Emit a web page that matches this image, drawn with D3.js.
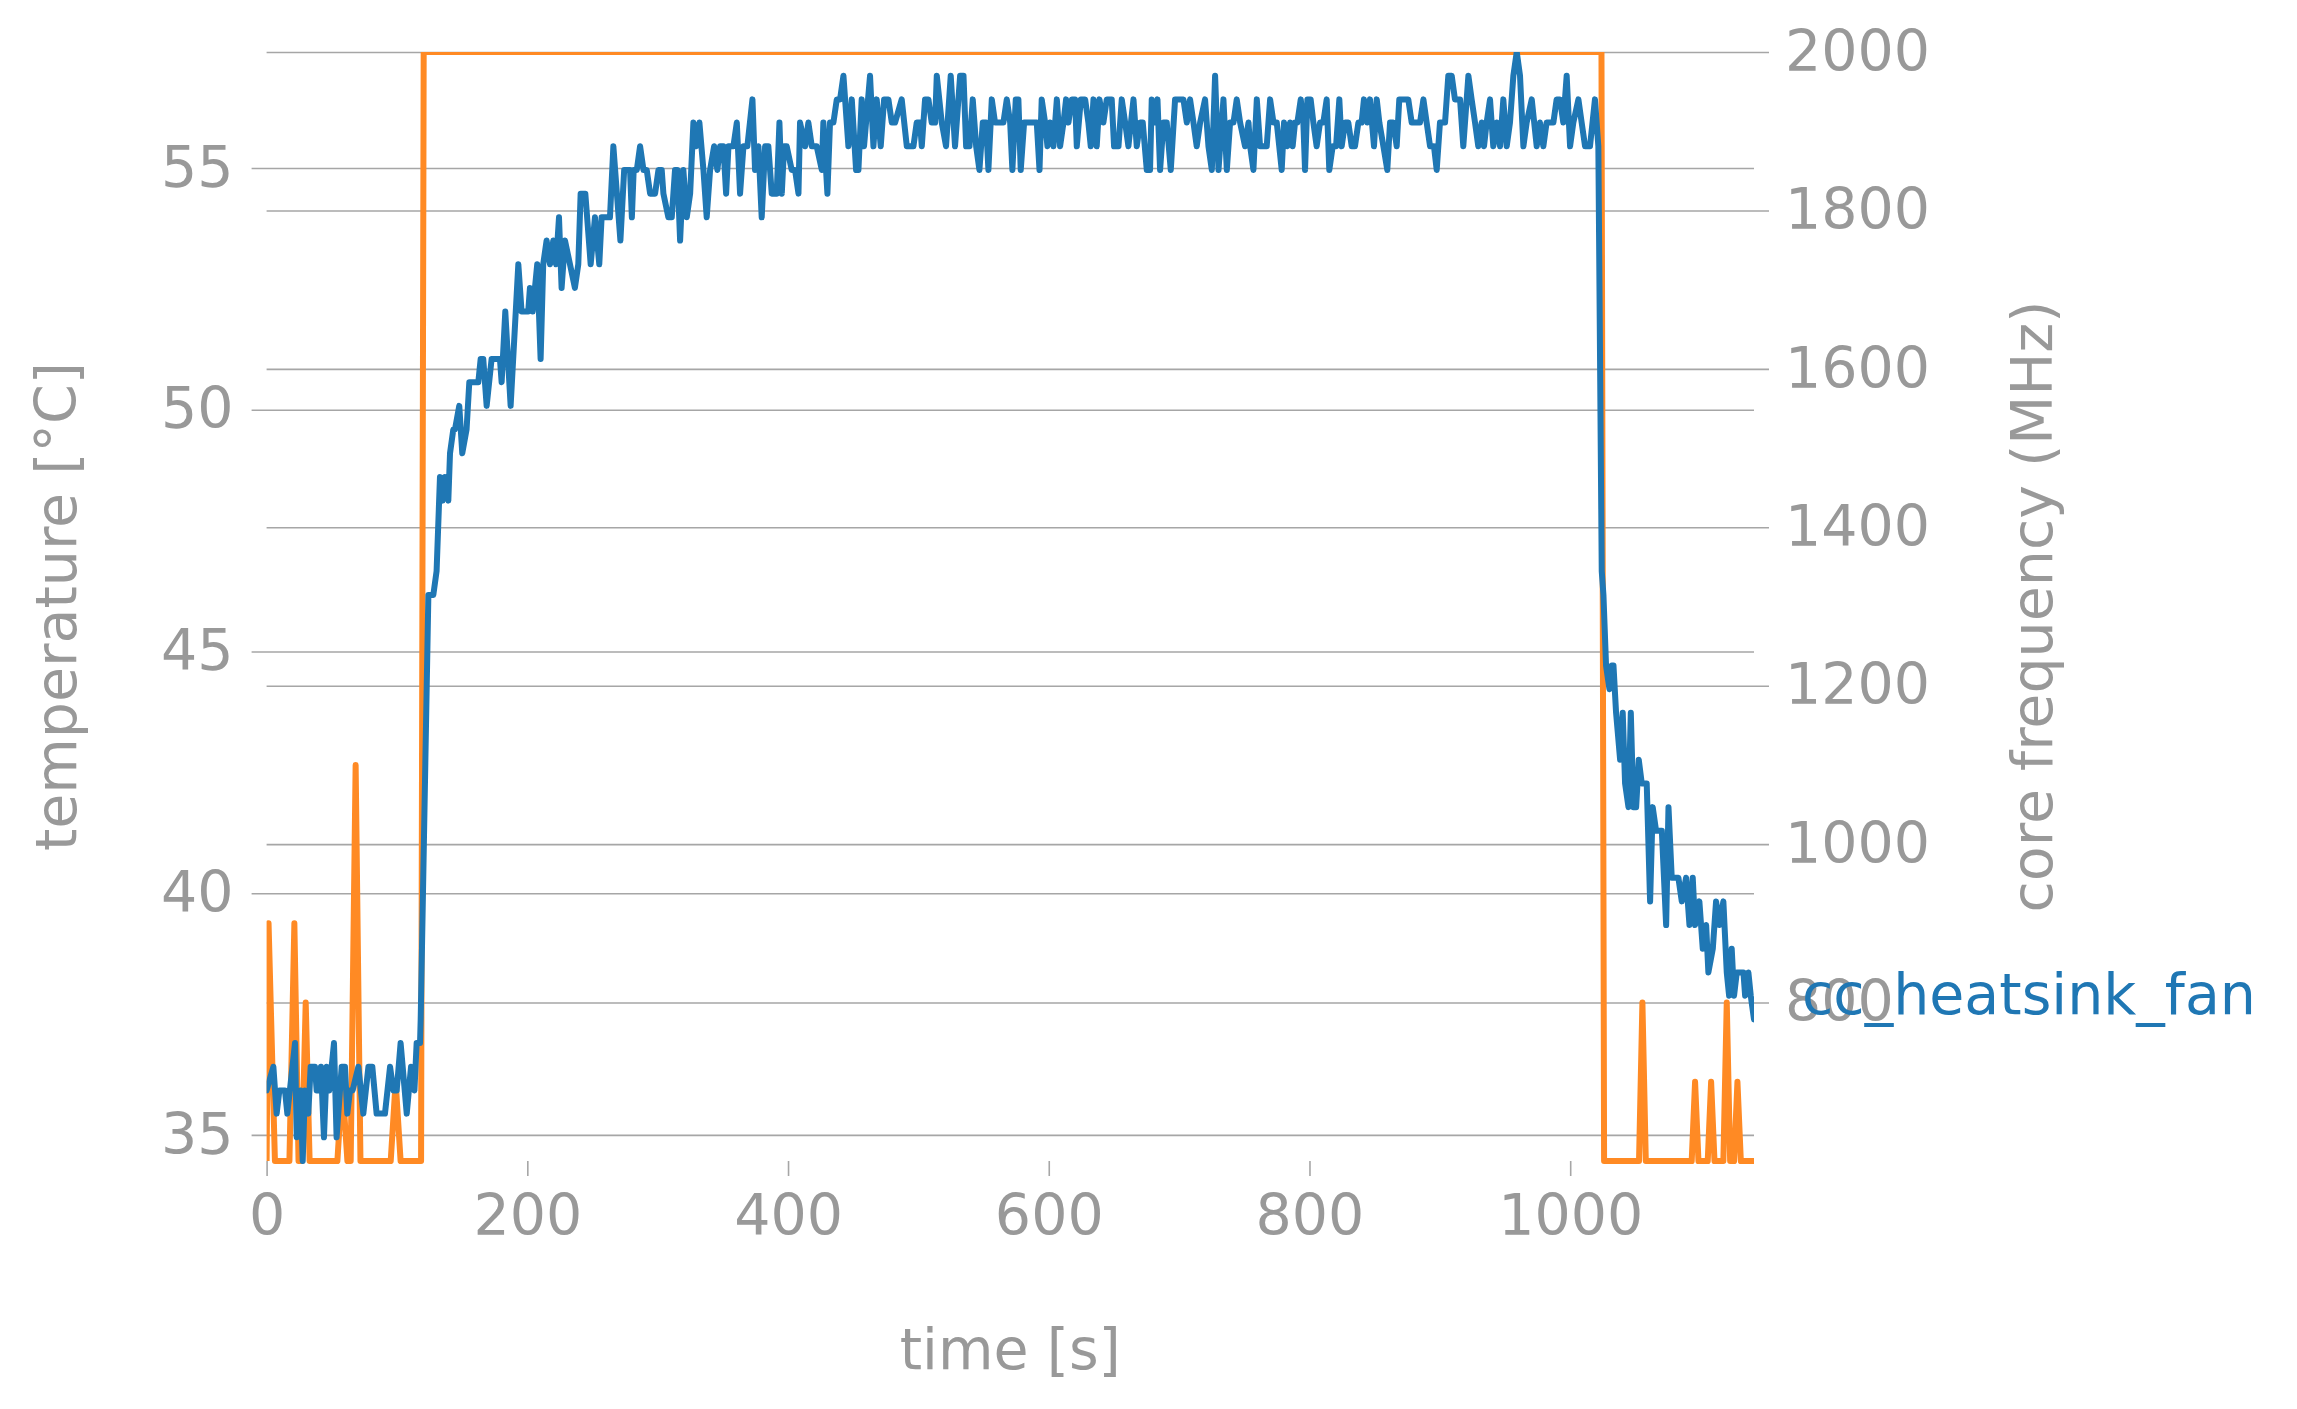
<!DOCTYPE html>
<html>
<head>
<meta charset="utf-8">
<script src="https://cdn.jsdelivr.net/npm/d3@7"></script>
<style>
  body { margin: 0; background: #fff; }
  svg { display: block; font-family: "DejaVu Sans", sans-serif; }
</style>
</head>
<body>
<svg id="chart" width="2297" height="1409"></svg>
<script>
// [time s, temperature °C]
const temperature = [
  [0,35.92],[5.2,36.41],[7.7,35.44],[9.8,35.92],[14.1,35.92],[15.9,35.44],[21.8,36.90],[23.1,34.95],[26.1,35.92],[27.7,34.46],
  [29.4,35.92],[32,35.44],[33.8,36.41],[37.1,36.41],[38.4,35.92],[40.4,35.92],[41.7,36.41],[44,34.95],[46.1,36.41],[48.1,35.92],
  [51.7,36.90],[53.7,34.95],[57.6,36.41],[60.1,36.41],[61.9,35.44],[64,35.92],[66,35.92],[70.4,36.41],[74.2,35.44],[78.1,36.41],
  [81.1,36.41],[84.4,35.44],[90.8,35.44],[94.7,36.41],[97.2,35.92],[99.8,35.92],[102.8,36.90],[107.5,35.44],[110.8,36.41],[113.4,35.92],
  [115.1,36.90],[117.7,36.90],[118.2,37.39],[124.1,46.17],[127.9,46.17],[130.4,46.66],[133,48.61],[135,48.12],[136.8,48.61],[139.4,48.12],
  [140.7,49.10],[143.2,49.59],[144.5,49.59],[147.8,50.08],[150.1,49.10],[153.4,49.59],[155.5,50.57],[162.4,50.57],[164.2,51.05],[166.2,51.05],
  [168.8,50.08],[172.6,51.05],[179,51.05],[180.3,50.57],[183.1,52.03],[187.2,50.08],[193.1,53.01],[195.6,52.03],[200.7,52.03],[202,52.52],
  [204.1,52.03],[207.6,53.01],[210.2,51.05],[212.2,53.01],[214.8,53.50],[217.4,53.01],[219.9,53.50],[222,53.01],[224.3,53.98],[226.3,52.52],
  [228.9,53.50],[232.7,53.01],[236.5,52.52],[239.1,53.01],[240.9,54.47],[244.5,54.47],[248.6,53.01],[251.9,53.98],[255.2,53.01],[257,53.98],
  [263.4,53.98],[266,55.45],[271.4,53.50],[274.3,54.96],[278.8,54.96],[280.2,53.98],[281.6,54.96],[284,54.96],[286.5,55.45],[289.1,54.96],
  [291.6,54.96],[294.2,54.47],[298,54.47],[300.6,54.96],[303.1,54.96],[304.4,54.47],[308.2,53.98],[310.8,53.98],[313.3,54.96],[315.1,54.96],
  [317.2,53.50],[319.7,54.96],[322.3,53.98],[324.9,54.47],[327.4,55.94],[329.5,55.45],[332,55.94],[335.1,54.96],[337.6,53.98],[340.2,54.96],
  [343.3,55.45],[345.8,54.96],[347.9,55.45],[350.4,55.45],[352.5,54.47],[354.3,55.45],[358.1,55.45],[360.7,55.94],[363.2,54.47],[365.8,55.45],
  [368.8,55.45],[372.7,56.42],[374.7,54.96],[377.3,55.45],[379.8,53.98],[382.4,55.45],[384.9,55.45],[387.5,54.47],[391.3,54.47],[393.4,55.94],
  [395.2,54.47],[397,55.45],[399,55.45],[402.8,54.96],[405.4,54.96],[408,54.47],[409.2,55.94],[413.1,55.45],[415.6,55.94],[418.2,55.45],
  [422,55.45],[425.9,54.96],[427.1,55.94],[430.2,54.47],[432.2,55.94],[434.8,55.94],[437.4,56.42],[439.9,56.42],[442.5,56.91],[446.3,55.45],
  [448.9,56.42],[452.2,54.96],[454,54.96],[456.5,56.42],[458.3,55.45],[462.9,56.91],[465.5,55.45],[468,56.42],[471.1,55.45],[473.7,56.42],
  [477,56.42],[479.6,55.94],[482.1,55.94],[487.2,56.42],[491.1,55.45],[496.2,55.45],[498.7,55.94],[501.3,55.94],[502.6,55.45],[505.1,56.42],
  [507.7,56.42],[510.2,55.94],[512.8,55.94],[514.1,56.91],[517.9,55.94],[521.2,55.45],[524.8,56.91],[528.1,55.45],[532,56.91],[534.6,56.91],
  [536.6,55.45],[539.2,55.45],[541.7,56.42],[544.3,55.45],[546.8,54.96],[549.4,55.94],[551.9,55.94],[553.7,54.96],[556.3,56.42],[558.8,55.94],
  [562.7,55.94],[565.2,55.94],[567.8,56.42],[570.4,55.94],[572.1,54.96],[574.7,56.42],[576.7,56.42],[578.5,54.96],[581.1,55.94],[590.8,55.94],
  [592.9,54.96],[594.6,56.42],[597.2,55.94],[599,55.45],[601,55.94],[603.6,55.45],[606.2,56.42],[608.7,55.45],[611.3,55.94],[613.3,56.42],
  [615.1,55.94],[617.7,56.42],[620.2,56.42],[621.5,55.45],[624.6,56.42],[627.9,56.42],[630.4,55.94],[632.2,55.45],[634.3,56.42],[636.8,55.45],
  [638.9,56.42],[641.9,55.94],[644.5,56.42],[648.3,56.42],[650.1,55.45],[653.5,55.45],[656,56.42],[658.6,55.94],[661.1,55.45],[665,56.42],
  [667.5,55.45],[670.1,55.94],[672.1,55.94],[675.2,54.96],[677.7,54.96],[679,56.42],[681.6,55.94],[683.4,56.42],[685.4,54.96],[688,55.94],
  [690.5,55.94],[693.6,54.96],[696.9,56.42],[703.3,56.42],[705.9,55.94],[708.4,56.42],[711,55.94],[713.5,55.45],[716.1,55.94],[719.9,56.42],
  [722.5,55.45],[725.1,54.96],[727.6,56.91],[730.2,54.96],[734,56.42],[736.6,54.96],[739.1,55.94],[741.7,55.94],[744.2,56.42],[746.8,55.94],
  [750.6,55.45],[753.2,55.94],[754.5,55.45],[757,54.96],[759.6,56.42],[762.1,55.45],[767.2,55.45],[769.8,56.42],[772.4,55.94],[774.9,55.94],
  [778.7,54.96],[780.5,55.94],[783,55.45],[785.1,55.94],[787.1,55.45],[788.9,55.94],[790.7,55.94],[793.3,56.42],[795.3,55.94],[796.6,54.96],
  [798.4,56.42],[800.9,56.42],[803,55.94],[805.5,55.45],[808.1,55.94],[810.6,55.94],[813.2,56.42],[815.2,54.96],[817.8,55.45],[820.4,55.45],
  [822.9,56.42],[824.7,55.45],[827.3,55.94],[829.8,55.94],[832.4,55.45],[834.9,55.45],[837.5,55.94],[840,55.94],[841.8,56.42],[844.4,55.94],
  [846.4,56.42],[849.5,55.45],[851.6,56.42],[853.6,55.94],[856.7,55.45],[859.7,54.96],[861.8,55.94],[864.3,55.94],[866.9,55.45],[868.9,56.42],
  [875.8,56.42],[878.4,55.94],[884.8,55.94],[887.4,56.42],[889.9,55.94],[892.5,55.45],[895.5,55.45],[897.6,54.96],[900.1,55.94],[904,55.94],
  [906.5,56.91],[909.1,56.91],[911.6,56.42],[915.5,56.42],[918,55.45],[921.9,56.91],[924.4,56.42],[927,55.94],[929.5,55.45],[932.1,55.94],
  [933.9,55.45],[935.9,55.94],[938.5,56.42],[941,55.45],[943.6,55.94],[946.2,55.45],[948.7,56.42],[951.3,55.45],[953.8,55.94],[956.4,56.91],
  [959,57.40],[961.5,56.91],[964.1,55.45],[966.6,55.94],[970.5,56.42],[974.3,55.45],[976.8,55.94],[979.4,55.45],[981.9,55.94],[987.1,55.94],
  [989.6,56.42],[992.2,56.42],[994.7,55.94],[997.3,56.91],[999.9,55.45],[1002.4,55.94],[1006.3,56.42],[1008.8,55.94],[1011.4,55.45],[1015.2,55.45],
  [1019,56.42],[1021.6,55.45],[1024.2,46.66],[1025.5,46.17],[1027.5,44.71],[1030.1,44.22],[1031.9,44.71],[1033.2,44.71],[1035.2,43.73],[1038.3,42.76],
  [1040.3,43.73],[1042.1,42.27],[1044.7,41.78],[1046.5,43.73],[1048.5,41.78],[1050.6,41.78],[1052.6,42.76],[1054.9,42.27],[1058.7,42.27],[1061.3,39.83],
  [1063.3,41.78],[1065.9,41.29],[1070.3,41.29],[1073.6,39.34],[1075.4,41.78],[1077.9,40.32],[1083,40.32],[1085.6,39.83],[1088.9,40.32],[1091.5,39.34],
  [1094,40.32],[1095.8,39.34],[1099.1,39.83],[1101.7,38.85],[1104.3,39.34],[1106,38.36],[1109.4,38.85],[1111.9,39.83],[1114.5,39.34],[1117.5,39.83],
  [1120.1,38.36],[1121.9,37.88],[1123.9,38.85],[1125.7,37.88],[1127.8,38.36],[1132.9,38.36],[1134.2,37.88],[1136.7,38.36],[1138.5,37.88],[1141,37.39]
]

// [time s, core frequency MHz]
const frequency = [
  [0,600],[1.5,900],[6.4,600],[17.5,600],[21.3,900],[24.5,600],[27,600],[30,800],[33,600],[54.3,600],
  [58,700],[62,600],[64.5,600],[68.3,1100],[72,600],[95.2,600],[99,700],[102.8,600],[118.5,600],[120.5,2000],
  [1024,2000],[1026,600],[1052.8,600],[1055.4,800],[1058,600],[1093.2,600],[1095.8,700],[1098.4,600],[1105.5,600],[1108.1,700],
  [1110.7,600],[1117.5,600],[1120.1,800],[1122.7,600],[1125.7,600],[1128.3,700],[1130.9,600],[1141,600]
]

const xTicks = [0, 200, 400, 600, 800, 1000]
const tempTicks = [35, 40, 45, 50, 55]
const freqTicks = [800, 1000, 1200, 1400, 1600, 1800, 2000]
const tempLimits = [34.46, 57.40]
const freqLimits = [600, 2000]
const seriesName = 'cc_heatsink_fan'

const svg = d3.select('#chart')
const plotLeft = 266.6
const plotRight = 1754
const plotTop = 52
const plotBottom = 1161
const tickLen = 15
const grey = '#999999'
const gridColor = '#a6a6a6'
const blue = '#1f77b4'
const orange = '#ff8a24'
const fontSize = 57
const lineWidth = 6
const plain = d3.format('d')

const xScale = d3.scaleLinear()
  .domain(d3.extent(temperature, d => d[0]))
  .range([plotLeft, plotRight])

const tempScale = d3.scaleLinear()
  .domain(tempLimits)
  .range([plotBottom, plotTop])

const freqScale = d3.scaleLinear()
  .domain(freqLimits)
  .range([plotBottom, plotTop])

// left axis: gridlines poking out to the left
svg.append('g')
  .attr('transform', `translate(${plotLeft},0)`)
  .call(d3.axisLeft(tempScale).tickValues(tempTicks).tickFormat(plain).tickSize(tickLen).tickPadding(18))
  .call(g => g.select('.domain').remove())
  .call(g => g.selectAll('.tick line').attr('x1', plotRight - plotLeft).attr('stroke', gridColor).attr('stroke-width', 1.6))
  .call(g => g.selectAll('.tick text').attr('fill', grey).style('font-size', fontSize + 'px').style('font-family', 'DejaVu Sans'))

// right axis: gridlines poking out to the right
svg.append('g')
  .attr('transform', `translate(${plotRight},0)`)
  .call(d3.axisRight(freqScale).tickValues(freqTicks).tickFormat(plain).tickSize(tickLen).tickPadding(16))
  .call(g => g.select('.domain').remove())
  .call(g => g.selectAll('.tick line').attr('x1', plotLeft - plotRight).attr('stroke', gridColor).attr('stroke-width', 1.6))
  .call(g => g.selectAll('.tick text').attr('fill', grey).style('font-size', fontSize + 'px').style('font-family', 'DejaVu Sans'))

// bottom axis, only small ticks
svg.append('g')
  .attr('transform', `translate(0,${plotBottom})`)
  .call(d3.axisBottom(xScale).tickValues(xTicks).tickFormat(plain).tickSize(tickLen).tickPadding(19))
  .call(g => g.select('.domain').remove())
  .call(g => g.selectAll('.tick line').attr('stroke', gridColor).attr('stroke-width', 1.6))
  .call(g => g.selectAll('.tick text').attr('fill', grey).style('font-size', fontSize + 'px').style('font-family', 'DejaVu Sans'))

// clip lines to the plot box (a little slack at the bottom)
svg.append('clipPath')
  .attr('id', 'plotArea')
  .append('rect')
    .attr('x', plotLeft)
    .attr('y', plotTop)
    .attr('width', plotRight - plotLeft)
    .attr('height', plotBottom - plotTop + 3)

const freqLine = d3.line()
  .x(d => xScale(d[0]))
  .y(d => freqScale(d[1]))

const tempLine = d3.line()
  .x(d => xScale(d[0]))
  .y(d => tempScale(d[1]))

svg.append('path')
  .datum(frequency)
  .attr('clip-path', 'url(#plotArea)')
  .attr('d', freqLine)
  .attr('fill', 'none')
  .attr('stroke', orange)
  .attr('stroke-width', lineWidth)
  .attr('stroke-linejoin', 'round')

svg.append('path')
  .datum(temperature)
  .attr('clip-path', 'url(#plotArea)')
  .attr('d', tempLine)
  .attr('fill', 'none')
  .attr('stroke', blue)
  .attr('stroke-width', lineWidth)
  .attr('stroke-linejoin', 'round')
  .attr('stroke-linecap', 'round')

// name of the series next to its last point (it runs over the 800 label, as in the original)
const last = temperature[temperature.length - 1]
svg.append('text')
  .attr('x', plotRight + 48)
  .attr('y', tempScale(last[1]))
  .attr('dy', '-0.1em')
  .text(seriesName)
  .attr('fill', blue)
  .style('font-size', fontSize + 'px')

// axis titles
svg.append('text')
  .attr('transform', `translate(56,${(plotTop + plotBottom) / 2}) rotate(-90)`)
  .attr('text-anchor', 'middle')
  .attr('dominant-baseline', 'central')
  .text('temperature [°C]')
  .attr('fill', grey)
  .style('font-size', fontSize + 'px')

svg.append('text')
  .attr('transform', `translate(2032,${(plotTop + plotBottom) / 2}) rotate(-90)`)
  .attr('text-anchor', 'middle')
  .attr('dominant-baseline', 'central')
  .text('core frequency (MHz)')
  .attr('fill', grey)
  .style('font-size', fontSize + 'px')

svg.append('text')
  .attr('x', (plotLeft + plotRight) / 2)
  .attr('y', 1369)
  .attr('text-anchor', 'middle')
  .text('time [s]')
  .attr('fill', grey)
  .style('font-size', fontSize + 'px')
</script>
</body>
</html>
